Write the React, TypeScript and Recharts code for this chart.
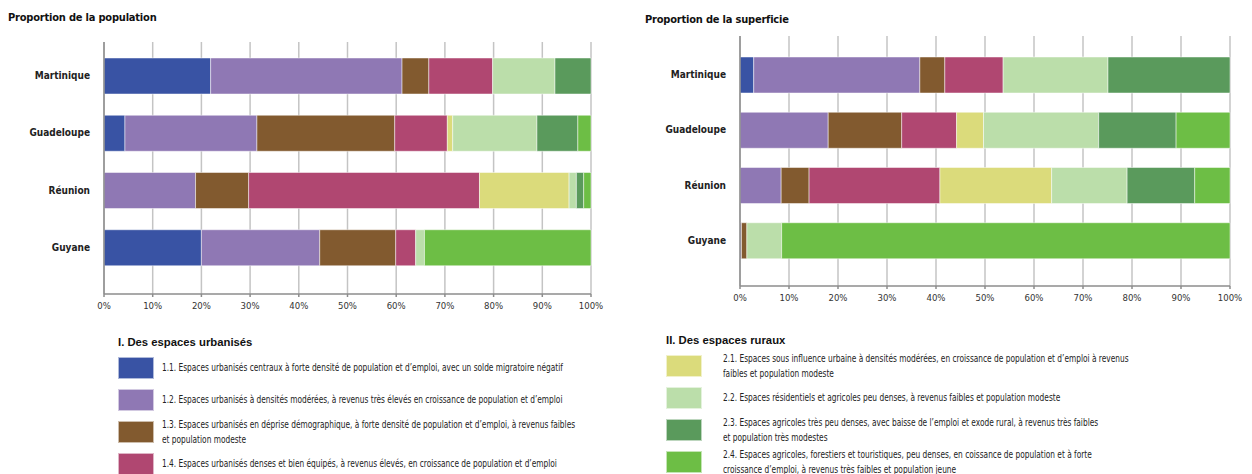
import { BarChart, Bar, XAxis, YAxis, CartesianGrid } from "recharts";

const territories = ["Martinique", "Guadeloupe", "Réunion", "Guyane"];

// parts in % of population, one array per type d'espace (same order as territories)
const pop11 = [21.9, 4.3, 0, 20.0];
const pop12 = [39.3, 27.1, 18.8, 24.3];
const pop13 = [5.5, 28.3, 10.9, 15.6];
const pop14 = [13.1, 10.8, 47.4, 4.1];
const pop21 = [0, 1.1, 18.4, 0];
const pop22 = [12.8, 17.3, 1.5, 1.8];
const pop23 = [7.4, 8.4, 1.5, 0];
const pop24 = [0, 2.7, 1.5, 34.2];

// parts in % of superficie
const sup11 = [2.8, 0, 0, 0];
const sup12 = [33.9, 18.0, 8.4, 0.3];
const sup13 = [5.1, 15.0, 5.7, 1.1];
const sup14 = [11.9, 11.2, 26.7, 0];
const sup21 = [0, 5.5, 22.8, 0];
const sup22 = [21.4, 23.5, 15.4, 7.1];
const sup23 = [24.9, 15.8, 13.8, 0];
const sup24 = [0, 11.0, 7.2, 91.5];

const xTicks = [0, 10, 20, 30, 40, 50, 60, 70, 80, 90, 100];

const seriesKeys = ["s11", "s12", "s13", "s14", "s21", "s22", "s23", "s24"];
const colors = [
  "#3953A4",
  "#8F78B4",
  "#825A2F",
  "#B04771",
  "#DBDB7B",
  "#BBDEAA",
  "#5A9A5C",
  "#6DBE45",
];

const urbanLabels = [
  "1.1. Espaces urbanisés centraux à forte densité de population et d’emploi, avec un solde migratoire négatif",
  "1.2. Espaces urbanisés à densités modérées, à revenus très élevés en croissance de population et d’emploi",
  "1.3. Espaces urbanisés en déprise démographique, à forte densité de population et d’emploi, à revenus faibles\net population modeste",
  "1.4. Espaces urbanisés denses et bien équipés, à revenus élevés, en croissance de population et d’emploi",
];
const ruralLabels = [
  "2.1. Espaces sous influence urbaine à densités modérées, en croissance de population et d’emploi à revenus\nfaibles et population modeste",
  "2.2. Espaces résidentiels et agricoles peu denses, à revenus faibles et population modeste",
  "2.3. Espaces agricoles très peu denses, avec baisse de l’emploi et exode rural, à revenus très faibles\net population très modestes",
  "2.4. Espaces agricoles, forestiers et touristiques, peu denses, en coissance de population et à forte\ncroissance d’emploi, à revenus très faibles et population jeune",
];

const FONT = '"Liberation Sans Narrow", "DejaVu Sans Condensed", sans-serif';

function buildRows(series: number[][]) {
  return territories.map((name, i) => {
    const row: Record<string, string | number> = { name };
    series.forEach((s, k) => {
      row[seriesKeys[k]] = s[i];
    });
    return row;
  });
}

const popData = buildRows([pop11, pop12, pop13, pop14, pop21, pop22, pop23, pop24]);
const supData = buildRows([sup11, sup12, sup13, sup14, sup21, sup22, sup23, sup24]);

type StackProps = {
  data: Record<string, string | number>[];
  width: number;
  height: number;
  yWidth: number;
  margin: { top: number; right: number; left: number; bottom: number };
  padTop: number;
  padBottom: number;
};

function StackChart({ data, width, height, yWidth, margin, padTop, padBottom }: StackProps) {
  return (
    <BarChart width={width} height={height} data={data} layout="vertical" margin={margin}>
      <CartesianGrid horizontal={false} stroke="#c4c4c4" strokeWidth={1.5} />
      <XAxis
        type="number"
        domain={[0, 100]}
        ticks={xTicks}
        tickFormatter={(v: number) => `${v}%`}
        stroke="#8c8c8c"
        strokeWidth={1.5}
        tickSize={3}
        tickMargin={5}
        height={30}
        interval={0}
        tick={{ fontSize: 9.5, fill: "#333", fontFamily: FONT }}
      />
      <YAxis
        type="category"
        dataKey="name"
        width={yWidth}
        padding={{ top: padTop, bottom: padBottom }}
        stroke="#8c8c8c"
        strokeWidth={1.5}
        tickLine={false}
        tickSize={0}
        tickMargin={14}
        tick={{ fontSize: 10, fill: "#222", fontWeight: "bold", fontFamily: FONT }}
      />
      {seriesKeys.map((k, i) => (
        <Bar
          key={k}
          dataKey={k}
          stackId="a"
          fill={colors[i]}
          stroke="#ffffff"
          strokeOpacity={0.6}
          strokeWidth={0.8}
          barSize={36}
          isAnimationActive={false}
        />
      ))}
    </BarChart>
  );
}

function LegendBlock({
  left,
  top,
  title,
  labels,
  colorOffset,
  textLeft,
}: {
  left: number;
  top: number;
  title: string;
  labels: string[];
  colorOffset: number;
  textLeft: number;
}) {
  return (
    <div style={{ position: "absolute", left, top }}>
      <div
        style={{
          position: "absolute",
          left: 0,
          top: 0,
          fontFamily: '"Liberation Sans", Arial, sans-serif',
          fontWeight: "bold",
          fontSize: 11.3,
          color: "#111",
          whiteSpace: "nowrap",
        }}
      >
        {title}
      </div>
      {labels.map((label, i) => (
        <div
          key={label}
          style={{
            position: "absolute",
            left: 0,
            top: 21 + i * 32,
            height: 21,
            display: "flex",
            alignItems: "center",
          }}
        >
          <div
            style={{
              width: 34,
              height: 20,
              background: colors[colorOffset + i],
              border: "0.5px solid rgba(255,255,255,0.6)",
              flex: "none",
            }}
          />
          <div
            style={{
              marginLeft: textLeft,
              fontFamily: FONT,
              fontSize: 9.6,
              lineHeight: "15px",
              color: "#222",
              whiteSpace: "pre-line",
              width: 560,
              transform: "scaleX(0.86)",
              transformOrigin: "left center",
            }}
          >
            {label}
          </div>
        </div>
      ))}
    </div>
  );
}

const titleStyle = {
  position: "absolute" as const,
  fontFamily: FONT,
  fontWeight: "bold" as const,
  fontSize: 11,
  letterSpacing: -0.2,
  color: "#111",
};

export default function App() {
  return (
    <div
      style={{
        position: "absolute",
        left: 0,
        top: 0,
        width: 1252,
        height: 474,
        background: "#fff",
        overflow: "hidden",
      }}
    >
      <div style={{ ...titleStyle, left: 8, top: 11 }}>Proportion de la population</div>
      <div style={{ ...titleStyle, left: 645, top: 13 }}>Proportion de la superficie</div>

      <div style={{ position: "absolute", left: 0, top: 30 }}>
        <StackChart
          data={popData}
          width={620}
          height={294}
          yWidth={104}
          margin={{ top: 12, right: 29, left: 0, bottom: 0 }}
          padTop={5}
          padBottom={18}
        />
      </div>
      <div style={{ position: "absolute", left: 630, top: 30 }}>
        <StackChart
          data={supData}
          width={620}
          height={286}
          yWidth={110}
          margin={{ top: 6, right: 20, left: 0, bottom: 0 }}
          padTop={11}
          padBottom={18}
        />
      </div>

      <LegendBlock
        left={118}
        top={336}
        title="I. Des espaces urbanisés"
        labels={urbanLabels}
        colorOffset={0}
        textLeft={8}
      />
      <LegendBlock
        left={666}
        top={334}
        title="II. Des espaces ruraux"
        labels={ruralLabels}
        colorOffset={4}
        textLeft={21}
      />
    </div>
  );
}
